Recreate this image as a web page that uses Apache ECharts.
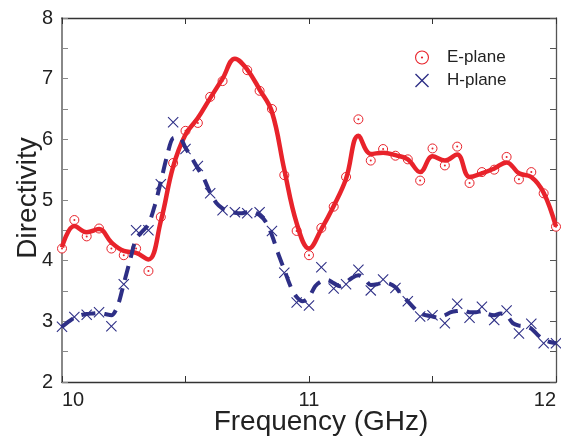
<!DOCTYPE html>
<html>
<head>
<meta charset="utf-8">
<script src="https://cdn.jsdelivr.net/npm/echarts@6/dist/echarts.min.js"></script>
<style>
  html, body { margin: 0; padding: 0; background: #fff; }
  #chart { width: 561px; height: 440px; }
</style>
</head>
<body>
<div id="chart"></div>
<script>
// measured points, E-plane (circles)
const freqE = [10.0, 10.05, 10.10, 10.15, 10.20, 10.25, 10.30, 10.35, 10.40, 10.45, 10.50, 10.55, 10.60, 10.65,
  10.75, 10.80, 10.85, 10.90, 10.95, 11.0, 11.05, 11.10, 11.15, 11.20, 11.25, 11.30, 11.35, 11.40, 11.45, 11.50,
  11.55, 11.60, 11.65, 11.70, 11.75, 11.80, 11.85, 11.90, 11.95, 12.0];
const dirE = [4.2, 4.67, 4.40, 4.53, 4.2, 4.09, 4.2, 3.83, 4.72, 5.61, 6.14, 6.27, 6.70, 6.96,
  7.14, 6.80, 6.50, 5.41, 4.49, 4.09, 4.54, 4.89, 5.38, 6.33, 5.65, 5.84, 5.73, 5.67, 5.32, 5.85,
  5.57, 5.88, 5.28, 5.46, 5.50, 5.71, 5.34, 5.46, 5.11, 4.56];

// measured points, H-plane (crosses)
const freqH = [10.0, 10.05, 10.10, 10.15, 10.20, 10.25, 10.30, 10.35, 10.40, 10.45, 10.50, 10.55, 10.60, 10.65,
  10.70, 10.75, 10.80, 10.85, 10.90, 10.95, 11.0, 11.05, 11.10, 11.15, 11.20, 11.25, 11.30, 11.35, 11.40, 11.45,
  11.50, 11.55, 11.60, 11.65, 11.70, 11.75, 11.80, 11.85, 11.90, 11.95, 12.0];
const dirH = [2.91, 3.07, 3.11, 3.15, 2.92, 3.61, 4.50, 4.50, 5.26, 6.28, 5.84, 5.56, 5.11, 4.83,
  4.80, 4.78, 4.80, 4.49, 3.80, 3.31, 3.26, 3.89, 3.54, 3.61, 3.85, 3.51, 3.69, 3.55, 3.33, 3.08,
  3.10, 2.97, 3.29, 3.06, 3.24, 3.02, 3.18, 2.80, 2.96, 2.64, 2.64];

// fitted curve, E-plane (solid red)
const fitFreqE = [10.0, 10.05, 10.10, 10.15, 10.20, 10.25, 10.30, 10.35, 10.40, 10.45, 10.50, 10.55, 10.60, 10.65,
  10.70, 10.75, 10.80, 10.85, 10.90, 10.95, 11.0, 11.05, 11.10, 11.15, 11.20, 11.25, 11.30, 11.35, 11.40, 11.45,
  11.50, 11.55, 11.60, 11.65, 11.70, 11.75, 11.80, 11.85, 11.90, 11.95, 12.0];
const fitE = [4.22, 4.57, 4.47, 4.52, 4.30, 4.16, 4.13, 4.02, 4.65, 5.55, 6.08, 6.35, 6.68, 7.0,
  7.33, 7.15, 6.82, 6.45, 5.5, 4.62, 4.2, 4.52, 4.9, 5.35, 6.06, 5.76, 5.78, 5.74, 5.67, 5.46,
  5.72, 5.65, 5.75, 5.38, 5.44, 5.52, 5.62, 5.44, 5.38, 5.12, 4.56];

// fitted curve, H-plane (dashed blue)
const fitFreqH = [10.0, 10.025, 10.05, 10.075, 10.10, 10.125, 10.15, 10.175, 10.20, 10.225, 10.25, 10.275, 10.30,
  10.325, 10.35, 10.375, 10.40, 10.425, 10.45, 10.475, 10.50, 10.525, 10.55, 10.575, 10.60, 10.625, 10.65,
  10.675, 10.70, 10.725, 10.75, 10.775, 10.80, 10.825, 10.85, 10.875, 10.90, 10.925, 10.95, 10.975, 11.0,
  11.025, 11.05, 11.075, 11.10, 11.125, 11.15, 11.175, 11.20, 11.225, 11.25, 11.275, 11.30, 11.325, 11.35,
  11.375, 11.40, 11.425, 11.45, 11.475, 11.50, 11.525, 11.55, 11.575, 11.60, 11.625, 11.65, 11.675, 11.70,
  11.725, 11.75, 11.775, 11.80, 11.825, 11.85, 11.875, 11.90, 11.925, 11.95, 11.975, 12.0];
const fitH = [2.91, 2.99, 3.06, 3.10, 3.12, 3.13, 3.14, 3.12, 3.10, 3.25, 3.62, 4.00, 4.36,
  4.48, 4.60, 4.90, 5.30, 5.72, 6.02, 6.03, 5.86, 5.70, 5.52, 5.35, 5.12, 4.95, 4.86,
  4.82, 4.79, 4.78, 4.80, 4.80, 4.75, 4.64, 4.42, 4.12, 3.85, 3.58, 3.40, 3.33, 3.40,
  3.58, 3.66, 3.68, 3.63, 3.58, 3.64, 3.72, 3.76, 3.70, 3.60, 3.61, 3.64, 3.62, 3.56,
  3.44, 3.33, 3.22, 3.13, 3.10, 3.08, 3.06, 3.10, 3.15, 3.17, 3.18, 3.15, 3.15, 3.17,
  3.12, 3.10, 3.13, 3.10, 2.97, 2.93, 2.92, 2.88, 2.78, 2.70, 2.66, 2.64];

const red = "#e8232b";
const navy = "#2e2f86";
const font = "Liberation Sans, Arial, sans-serif";

const zip = (xs, ys) => xs.map((x, i) => [x, ys[i]]);

// circle ring with centre dot, and an X made of two thin bars
const ringDot = "path://M0,50 A50,50 0 1,1 100,50 A50,50 0 1,1 0,50 Z M8,50 A42,42 0 1,0 92,50 A42,42 0 1,0 8,50 Z M42,50 A8,8 0 1,1 58,50 A8,8 0 1,1 42,50 Z";
const cross = "path://M0,7 L7,0 L50,43 L93,0 L100,7 L57,50 L100,93 L93,100 L50,57 L7,100 L0,93 L43,50 Z";

const intLabel = (v) => (Math.abs(v - Math.round(v)) < 1e-6 ? String(Math.round(v)) : "");

const chart = echarts.init(document.getElementById("chart"), null, { renderer: "canvas" });

const option = {
  animation: false,
  backgroundColor: "#fff",
  grid: { left: 62, right: 5, top: 18, bottom: 58 },
  legend: {
    orient: "vertical",
    left: 410,
    top: 44,
    itemWidth: 40,
    itemHeight: 14,
    itemGap: 6,
    textStyle: { fontFamily: font, fontSize: 17, color: "#222", lineHeight: 17 },
    data: [
      { name: "E-plane", icon: ringDot, itemStyle: { color: red, borderWidth: 0 } },
      { name: "H-plane", icon: cross, itemStyle: { color: navy, borderWidth: 0 } },
    ],
  },
  xAxis: [
    {
      type: "value",
      min: 10,
      max: 12,
      interval: 0.5,
      axisLine: { lineStyle: { color: "#333", width: 1.3 } },
      axisTick: { inside: true, length: 6, lineStyle: { color: "#333" } },
      splitLine: { show: false },
      axisLabel: {
        formatter: intLabel,
        fontFamily: font,
        fontSize: 20,
        color: "#222",
        margin: 8,
        alignMinLabel: "left",
        alignMaxLabel: "right",
      },
    },
    {
      type: "value",
      position: "top",
      min: 10,
      max: 12,
      interval: 0.5,
      axisLine: { lineStyle: { color: "#333", width: 1.3 } },
      axisTick: { inside: true, length: 6, lineStyle: { color: "#333" } },
      splitLine: { show: false },
      axisLabel: { show: false },
    },
  ],
  yAxis: [
    {
      type: "value",
      min: 2,
      max: 8,
      interval: 0.5,
      axisLine: { show: true, lineStyle: { color: "#888", width: 2 } },
      axisTick: { show: true, inside: true, length: 6, lineStyle: { color: "#888" } },
      splitLine: { show: false },
      axisLabel: { formatter: intLabel, fontFamily: font, fontSize: 20, color: "#222", margin: 9 },
    },
    {
      type: "value",
      position: "right",
      min: 2,
      max: 8,
      interval: 0.5,
      axisLine: { show: true, lineStyle: { color: "#555", width: 1.3 } },
      axisTick: { show: true, inside: true, length: 6, lineStyle: { color: "#555" } },
      splitLine: { show: false },
      axisLabel: { show: false },
    },
  ],
  graphic: [
    {
      type: "text",
      x: 321,
      y: 422,
      style: {
        text: "Frequency (GHz)",
        font: "28px Liberation Sans, Arial, sans-serif",
        fill: "#222",
        align: "center",
        verticalAlign: "middle",
      },
    },
    {
      type: "text",
      x: 28,
      y: 198,
      rotation: Math.PI / 2,
      style: {
        text: "Directivity",
        font: "28px Liberation Sans, Arial, sans-serif",
        fill: "#222",
        align: "center",
        verticalAlign: "middle",
      },
    },
  ],
  series: [
    {
      name: "E-fit",
      type: "line",
      data: zip(fitFreqE, fitE),
      smooth: 0.4,
      showSymbol: false,
      silent: true,
      lineStyle: { color: red, width: 4.5 },
    },
    {
      name: "H-fit",
      type: "line",
      data: zip(fitFreqH, fitH),
      smooth: 0.3,
      showSymbol: false,
      silent: true,
      lineStyle: { color: navy, width: 4, type: [14, 9] },
    },
    {
      name: "E-plane",
      type: "scatter",
      data: zip(freqE, dirE),
      symbol: "circle",
      symbolSize: 9,
      itemStyle: { color: "#fff", borderColor: red, borderWidth: 1, opacity: 1 },
    },
    {
      name: "E-dot",
      type: "scatter",
      data: zip(freqE, dirE),
      symbol: "circle",
      symbolSize: 2,
      silent: true,
      itemStyle: { color: red, opacity: 1 },
    },
    {
      name: "H-plane",
      type: "scatter",
      data: zip(freqH, dirH),
      symbol: cross,
      symbolSize: 11,
      itemStyle: { color: navy, opacity: 1 },
    },
  ],
};

chart.setOption(option);
</script>
</body>
</html>
